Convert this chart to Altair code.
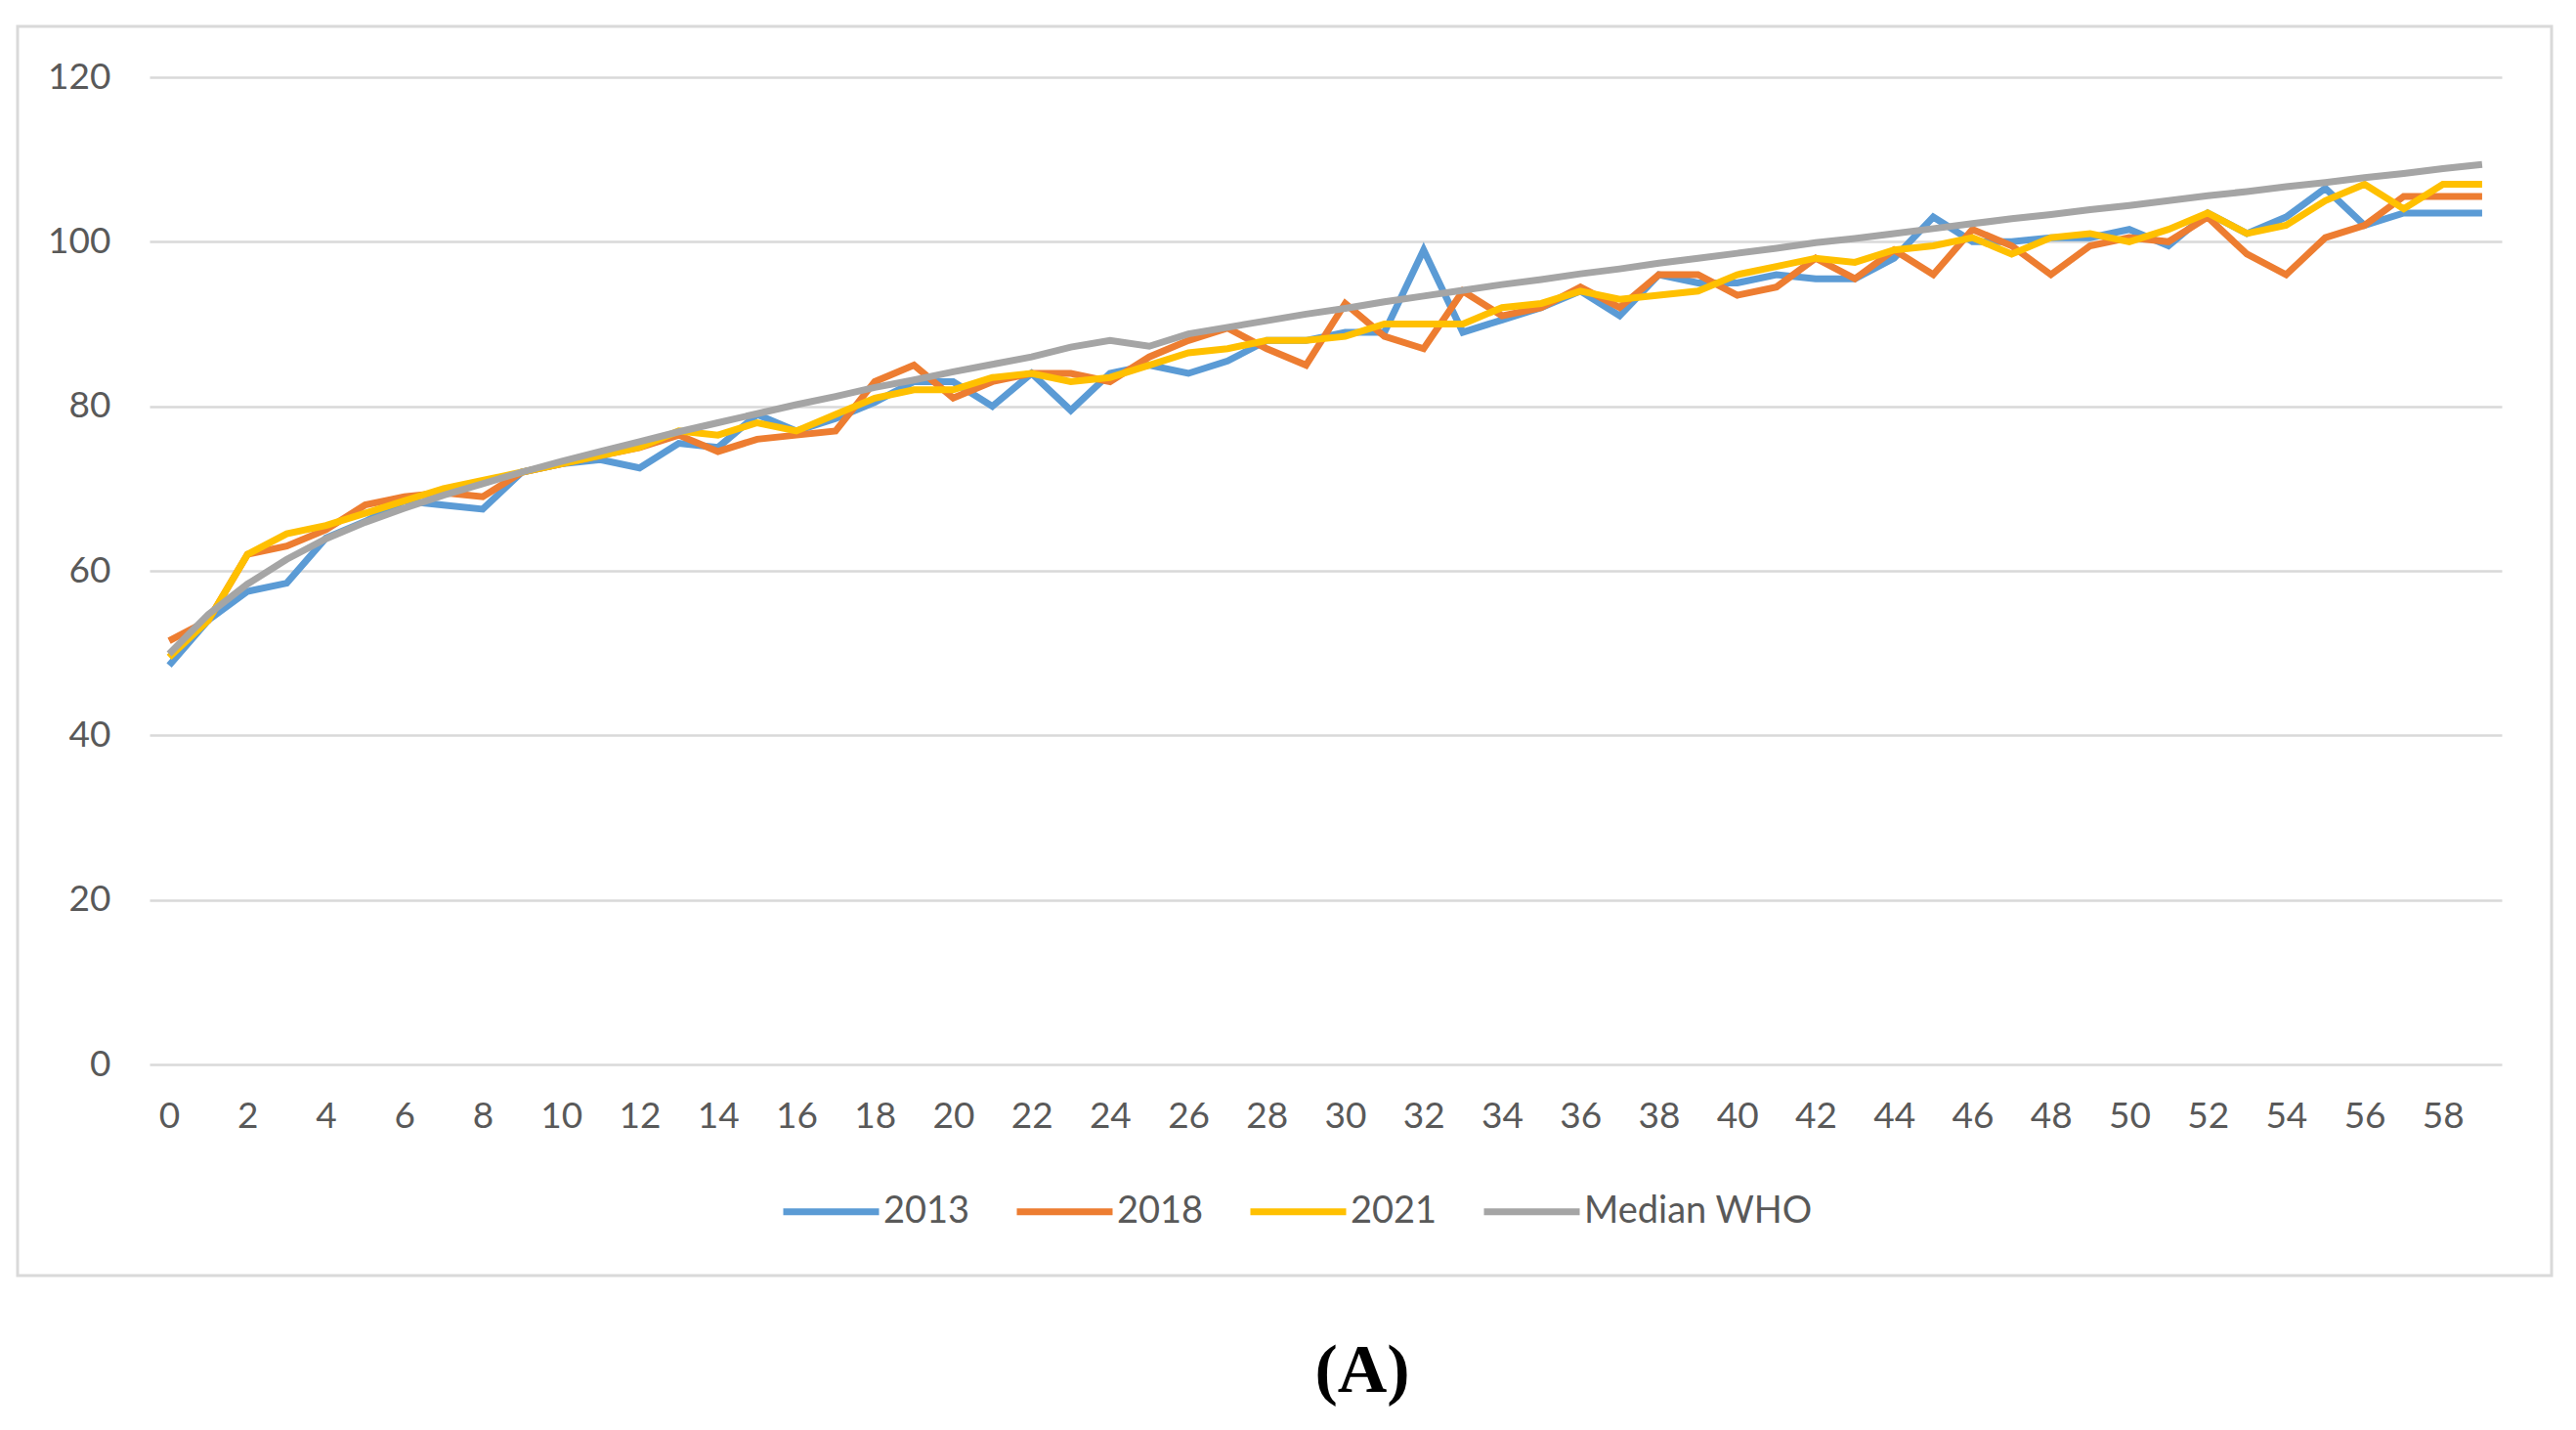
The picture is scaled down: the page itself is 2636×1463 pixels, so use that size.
import altair as alt
import pandas as pd

months = list(range(60))

s2013 = [48.5, 54, 57.5, 58.5, 64, 66, 68.5, 68, 67.5, 72,
         73, 73.5, 72.5, 75.5, 75, 79, 77, 78.5, 80.5, 83,
         83, 80, 84, 79.5, 84, 85, 84, 85.5, 88, 88,
         89, 89, 99, 89, 90.5, 92, 94, 91, 96, 95,
         95, 96, 95.5, 95.5, 98, 103, 100, 100, 100.5, 100.5,
         101.5, 99.5, 103.5, 101, 103, 106.5, 102, 103.5, 103.5, 103.5]

s2018 = [51.5, 54, 62, 63, 65, 68, 69, 69.5, 69, 72,
         73, 74, 75, 76.5, 74.5, 76, 76.5, 77, 83, 85,
         81, 83, 84, 84, 83, 86, 88, 89.5, 87, 85,
         92.5, 88.5, 87, 94, 91, 92, 94.5, 92, 96, 96,
         93.5, 94.5, 98, 95.5, 99, 96, 101.5, 99.5, 96, 99.5,
         100.5, 100, 103, 98.5, 96, 100.5, 102, 105.5, 105.5, 105.5]

s2021 = [49.5, 54, 62, 64.5, 65.5, 67, 68.5, 70, 71, 72,
         73, 74, 75, 77, 76.5, 78, 77, 79, 81, 82,
         82, 83.5, 84, 83, 83.5, 85, 86.5, 87, 88, 88,
         88.5, 90, 90, 90, 92, 92.5, 94, 93, 93.5, 94,
         96, 97, 98, 97.5, 99, 99.5, 100.5, 98.5, 100.5, 101,
         100, 101.5, 103.5, 101, 102, 105, 107, 104, 107, 107]

who = [49.9, 54.7, 58.4, 61.4, 63.9, 65.9, 67.6, 69.2, 70.6, 72,
       73.3, 74.5, 75.7, 76.9, 78, 79.1, 80.2, 81.2, 82.3, 83.2,
       84.2, 85.1, 86, 87.2, 88, 87.3, 88.8, 89.6, 90.4, 91.2,
       91.9, 92.7, 93.4, 94.1, 94.8, 95.4, 96.1, 96.7, 97.4, 98,
       98.6, 99.2, 99.9, 100.4, 101, 101.6, 102.2, 102.8, 103.3, 103.9,
       104.4, 105, 105.6, 106.1, 106.7, 107.2, 107.8, 108.3, 108.9, 109.4]

series_names = ["2013", "2018", "2021", "Median WHO"]
series_colors = ["#5B9BD5", "#ED7D31", "#FFC000", "#A5A5A5"]
x_ticks = list(range(0, 60, 2))
y_ticks = [0, 20, 40, 60, 80, 100, 120]

rows = []
for name, vals in zip(series_names, [s2013, s2018, s2021, who]):
    for m, v in zip(months, vals):
        rows.append({"month": m, "value": v, "series": name})
df = pd.DataFrame(rows)

FONT = "Lato"
LABEL_COLOR = "#595959"

W, H = 2407, 1010

border = alt.Chart(pd.DataFrame({"k": [0]})).mark_rect(
    fillOpacity=0, stroke="#d9d9d9", strokeWidth=3, clip=False
).encode(
    x=alt.value(-135), x2=alt.value(2458), y=alt.value(-52), y2=alt.value(1226)
)

lines = alt.Chart(df).mark_line(strokeWidth=7, clip=False).encode(
    x=alt.X("month:Q",
            scale=alt.Scale(domain=[-0.5, 59.5], nice=False, zero=False),
            axis=alt.Axis(values=x_ticks, title=None, grid=False, ticks=False, domain=False,
                          labelFont=FONT, labelFontSize=37, labelColor=LABEL_COLOR,
                          labelPadding=35, labelFlush=False)),
    y=alt.Y("value:Q",
            scale=alt.Scale(domain=[0, 120], nice=False),
            axis=alt.Axis(values=y_ticks, title=None, grid=True, gridColor="#d9d9d9",
                          gridWidth=2.5, ticks=False, domain=False,
                          labelFont=FONT, labelFontSize=37, labelColor=LABEL_COLOR,
                          labelPadding=40)),
    color=alt.Color("series:N",
                    scale=alt.Scale(domain=series_names, range=series_colors),
                    legend=alt.Legend(orient="none", legendX=645, legendY=1108,
                                      direction="horizontal", title=None,
                                      symbolType="stroke", symbolSize=9604,
                                      symbolStrokeWidth=7,
                                      labelFont=FONT, labelFontSize=38,
                                      labelColor=LABEL_COLOR, labelOffset=1,
                                      labelLimit=600, columnPadding=33)),
)

caption = alt.Chart(pd.DataFrame({"t": ["(A)"]})).mark_text(
    font="Liberation Serif", fontWeight="bold", fontSize=70, color="black",
    align="center", baseline="middle"
).encode(
    text="t:N", x=alt.value(1241), y=alt.value(1324)
)

chart = alt.layer(border, lines, caption).properties(
    width=W, height=H,
    padding={"left": 145, "top": 71, "right": 60, "bottom": 372},
    autosize=alt.AutoSizeParams(type="none"),
    background="white",
).configure_view(stroke=None)

chart.save("out.html", embed_options={"renderer": "svg", "actions": False})
